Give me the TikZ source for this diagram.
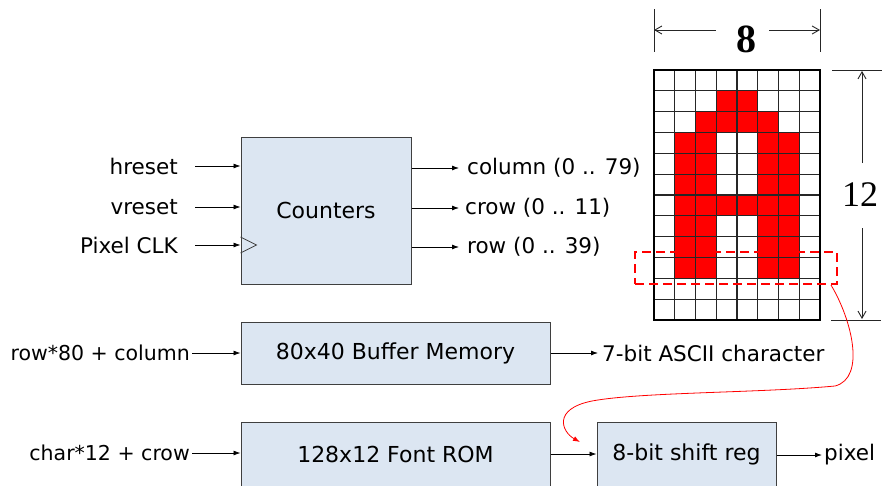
\documentclass[tikz,border=0pt]{standalone}
\usepackage{fontspec}
\setmainfont{DejaVu Sans}
\newfontfamily\dimfont{Liberation Serif}
\usetikzlibrary{arrows.meta,positioning}
\definecolor{blkfill}{HTML}{DCE6F2}
\definecolor{blkline}{HTML}{3F3F3F}

\begin{document}
\begin{tikzpicture}[x=1pt,y=-1pt,
    blk/.style={draw=blkline,fill=blkfill,line width=1pt,font=\fontsize{22}{26}\selectfont},
    lbl/.style={font=\fontsize{21.5}{26}\selectfont,inner sep=2pt},
    sig/.style={-{Latex[length=7pt,width=5pt]},line width=0.8pt},
    dim/.style={line width=0.9pt,black!85},
    dimtip/.style={-{Straight Barb[length=7pt,width=8pt]}}]
  \useasboundingbox (0,0) rectangle (884,485);

  % counters
  \node[blk,minimum width=170pt,minimum height=147pt] (cnt) at (326,210.5) {Counters};
  \draw[blkline,line width=0.8pt] ([yshift=-26.5pt]cnt.west) -- ++(16,8) -- ++(-16,8);
  \node[lbl,anchor=east] (hres) at (180,166) {hreset};
  \node[lbl,anchor=east] (vres) at (180,207) {vreset};
  \node[lbl,anchor=east] (pclk) at (180,245) {Pixel CLK};
  \draw[sig] ([xshift=15pt]hres.east) -- (hres.east -| cnt.west);
  \draw[sig] ([xshift=15pt]vres.east) -- (vres.east -| cnt.west);
  \draw[sig] ([xshift=15pt]pclk.east) -- (pclk.east -| cnt.west);
  \node[lbl,anchor=west] (col) at (465,168) {column (0 .. 79)};
  \node[lbl,anchor=west] (crow) at (463,208) {crow (0 .. 11)};
  \node[lbl,anchor=west] (row) at (465,247) {row (0 .. 39)};
  \draw[sig] (cnt.east |- col.west) -- ([xshift=-6pt]col.west);
  \draw[sig] (cnt.east |- crow.west) -- ([xshift=-4pt]crow.west);
  \draw[sig] (cnt.east |- row.west) -- ([xshift=-6pt]row.west);

  % buffer memory
  \node[blk,minimum width=309pt,minimum height=62pt] (buf) at (395.5,353) {80x40 Buffer Memory};
  \node[lbl,font=\fontsize{20.5}{25}\selectfont,anchor=east] (addr) at (192,353) {row*80 + column};
  \node[lbl,anchor=west] (ascii) at (600,353) {7-bit ASCII character};
  \draw[sig] (addr.east) -- (buf.west);
  \draw[sig] (buf.east) -- ([xshift=-2pt]ascii.west);

  % font rom and shift register
  \node[blk,minimum width=309pt,minimum height=64pt] (rom) at (395.5,454) {128x12 Font ROM};
  \node[blk,minimum width=179pt,minimum height=64pt] (sreg) at (686.5,454) {8-bit shift reg};
  \node[lbl,font=\fontsize{20.5}{25}\selectfont,anchor=east] (caddr) at (192,453) {char*12 + crow};
  \node[lbl,anchor=west] (pix) at (822,455) {pixel};
  \draw[sig] (caddr.east) -- (rom.west |- caddr.east);
  \draw[sig] (rom.east |- sreg.west) -- (sreg.west);
  \draw[sig] (sreg.east |- pix.west) -- (pix.west);

  % character cell
  \foreach \r/\cs in {1/{3,4},2/{2,3,4,5},3/{1,2,5,6},4/{1,2,5,6},5/{1,2,5,6},
                      6/{1,2,3,4,5,6},7/{1,2,5,6},8/{1,2,5,6},9/{1,2,5,6}}
    \foreach \c in \cs
      \fill[red] (654+\c*20.75,70+\r*20.833) rectangle ++(20.75,20.833);
  \foreach \i in {1,...,7}
    \draw[black!85,line width=1.3pt] (654+\i*20.75,70) -- ++(0,250);
  \foreach \j in {1,...,11}
    \draw[black!85,line width=1.3pt] (654,70+\j*20.833) -- ++(166,0);
  \draw[line width=1.9pt] (654,70) rectangle (820,320);

  % dimensions
  \node[font=\dimfont\bfseries\fontsize{40}{44}\selectfont,inner sep=0pt] (eight) at (746,39) {8};
  \draw[dim] (654,9) -- (654,52);
  \draw[dim] (820,9) -- (820,52);
  \draw[dim,dimtip] ([xshift=-20pt]eight.west |- 0,30) -- (654,30);
  \draw[dim,dimtip] ([xshift=13pt]eight.east |- 0,30) -- (820,30);
  \node[font=\dimfont\fontsize{36}{40}\selectfont,inner sep=0pt] (twelve) at (860,195) {12};
  \draw[dim] (832,70) -- (882,70);
  \draw[dim] (831,320) -- (881,320);
  \draw[dim,dimtip] (862,163) -- (862,71);
  \draw[dim,dimtip] (862,228) -- (862,319);

  % selected row
  \node[draw=red,line width=2pt,dash pattern=on 9pt off 5pt,minimum width=202pt,minimum height=32pt,inner sep=0pt] (sel) at (736,268) {};
  \coordinate (tip) at (580,442);
  \draw[red,line width=0.8pt,-{Latex[length=7pt,width=5pt]}] ([xshift=-7pt]sel.south east)
    .. controls (852,320) and (866,378) .. (835,386)
    .. controls (760,393) and (640,392) .. (592,401)
    .. controls (552,409) and (562,432) .. (tip);
\end{tikzpicture}
\end{document}
